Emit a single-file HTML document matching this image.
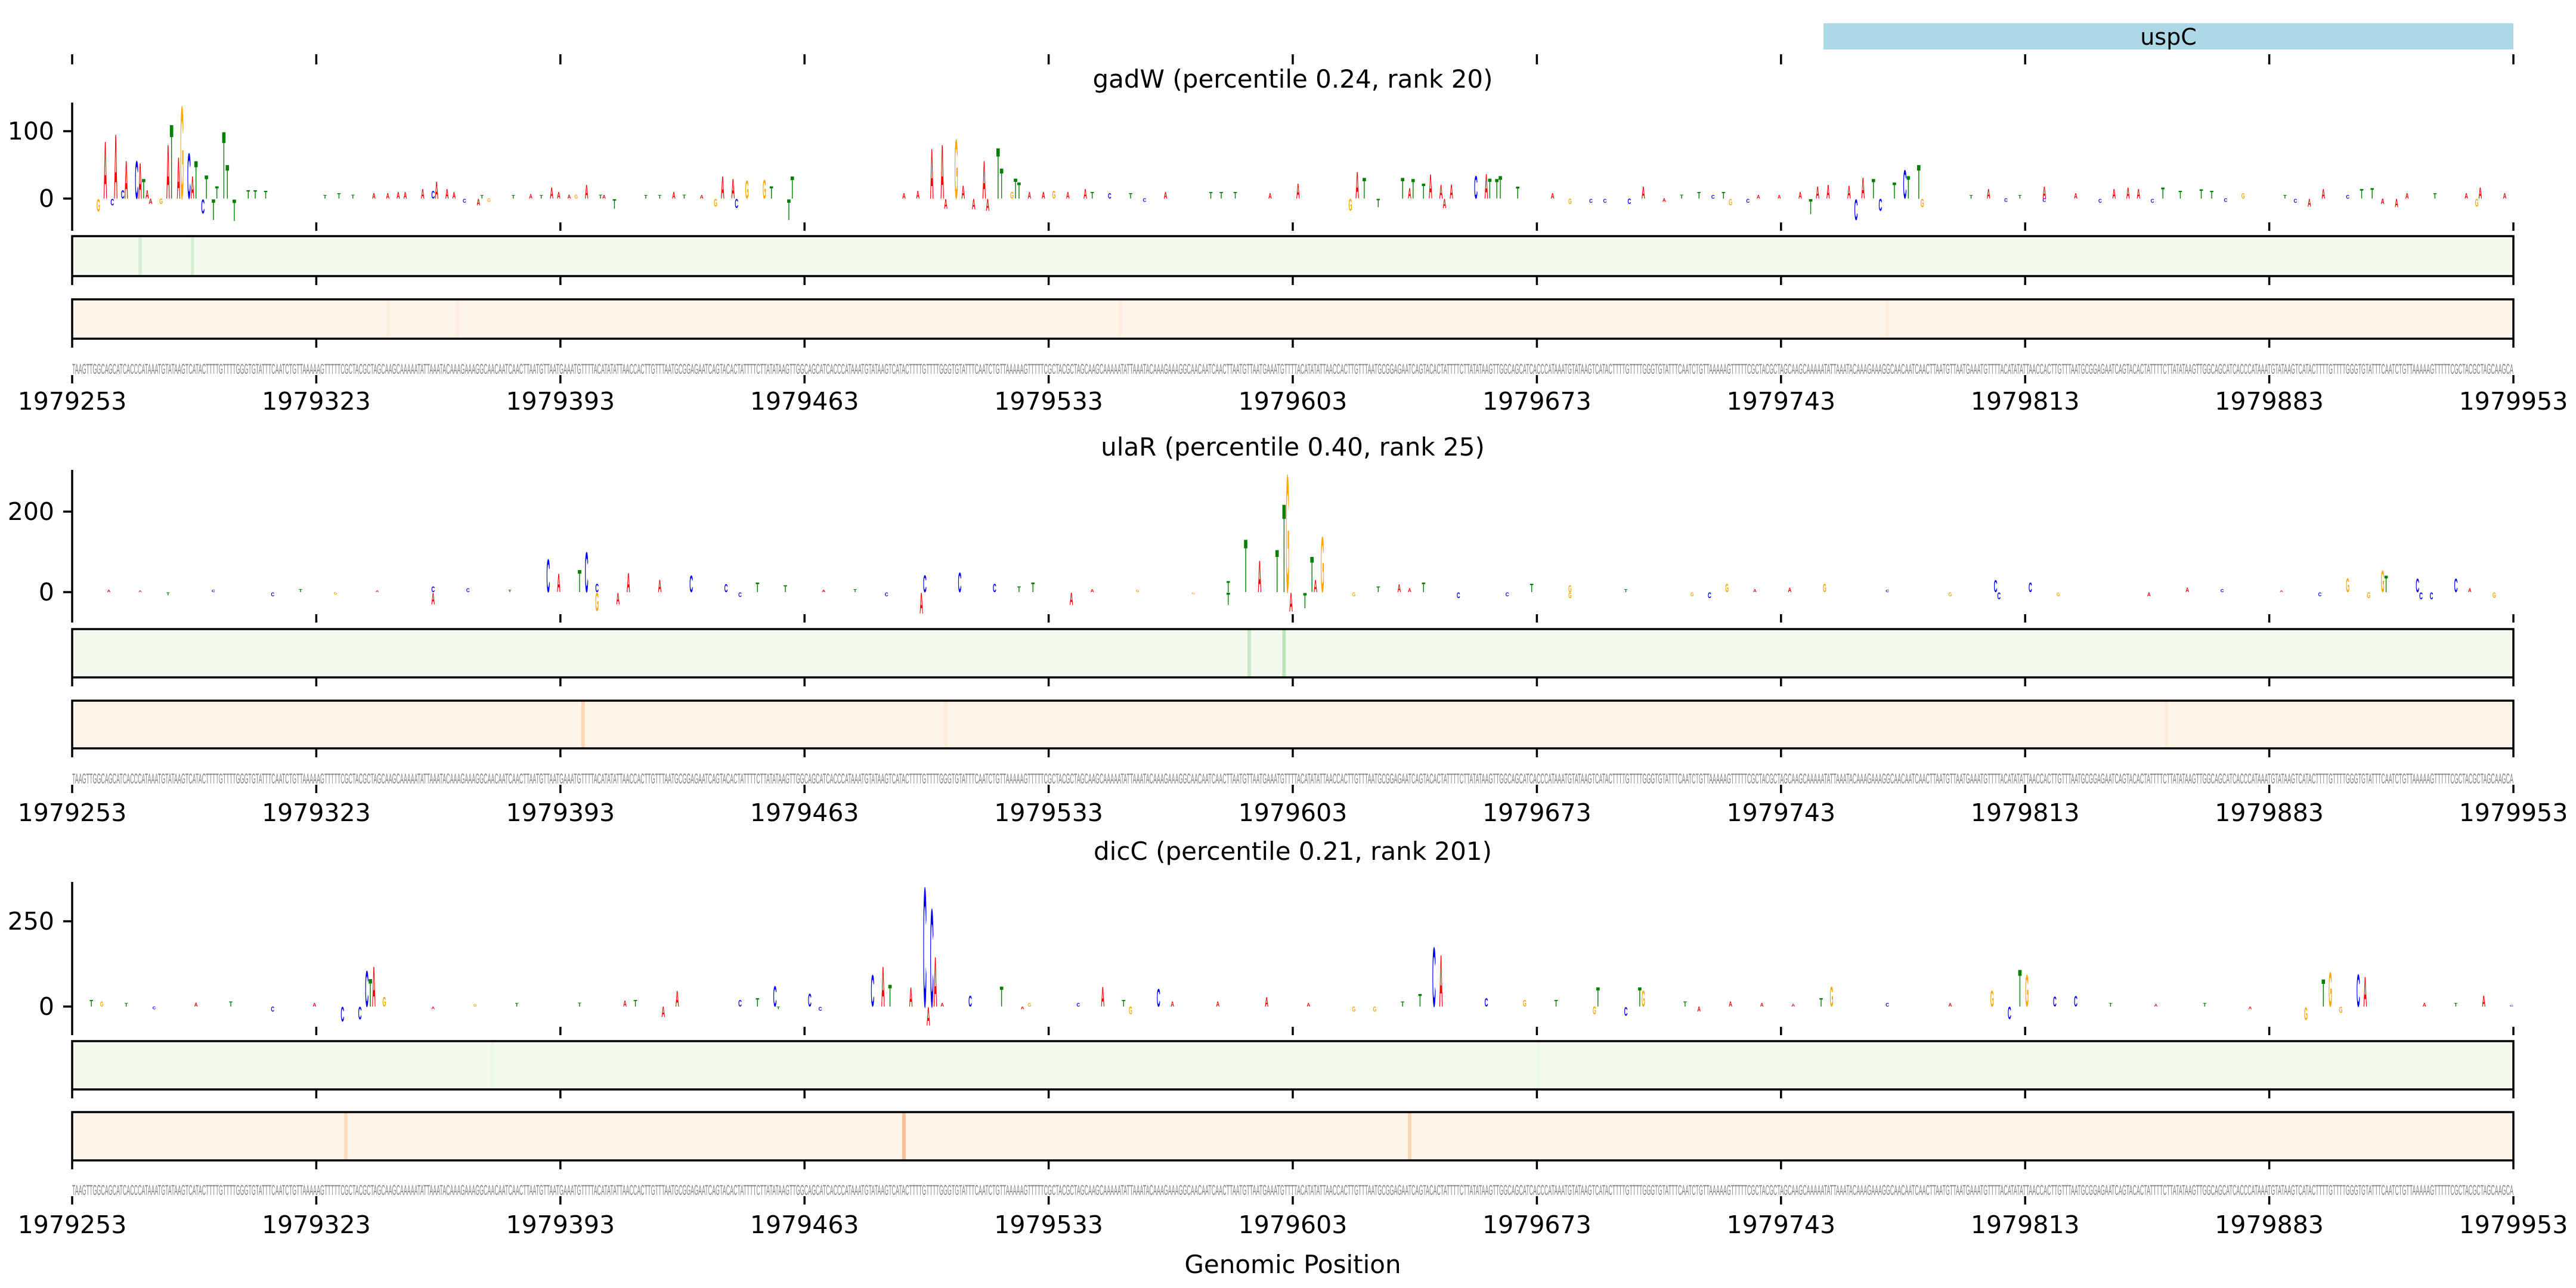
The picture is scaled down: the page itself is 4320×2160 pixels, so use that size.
<!DOCTYPE html>
<html><head><meta charset="utf-8"><style>
html,body{margin:0;padding:0;background:#fff;}
svg{display:block;}
</style></head><body>
<svg id="chart" xmlns="http://www.w3.org/2000/svg" width="4320" height="2160" viewBox="0 0 4320 2160">
<rect x="0" y="0" width="4320" height="2160" fill="#fff"/>
</svg>
<script>
// ---------- data ----------
const tickLabels = ["1979253","1979323","1979393","1979463","1979533","1979603","1979673","1979743","1979813","1979883","1979953"];
const panelTitles = ["gadW (percentile 0.24, rank 20)","ulaR (percentile 0.40, rank 25)","dicC (percentile 0.21, rank 201)"];
const yTickVals1 = [0,100];
const yTickVals2 = [0,200];
const yTickVals3 = [0,250];

const p1Pos = [7,9,11,12,14,15,18,19,20,21,22,25,27,28,30,31,33,34,35,37,38,40,41,43,44,46,52,104,107,137,147,155,184,186,189,190,193,198,200,205,206,246,249,250,253,255,258,261,262,265,266,269,270,271,351,366,368,370,374,381,383,384,387,389,392,393,395,402,405,406,408,409,414,450,498,500,503,509,511,513,516,518,522,525,526,529,530,565,589,599,610,641,659,666,689,690];
const p1Val = [-19,88,-10,99,13,58,58,55,30,13,-8,-8,83,114,63,142,70,34,58,-22,36,-32,19,103,52,-33,13,26,15,17,21,-15,-12,34,30,-14,28,29,19,-32,34,77,83,-15,91,20,-16,58,-18,78,46,10,31,25,23,-18,41,32,-13,32,16,30,23,37,21,-14,22,35,38,31,30,35,18,18,-23,18,21,20,-32,32,30,-18,25,44,35,52,-13,18,17,17,14,-12,16,-13,-12,17];
const p1Let = ["G","A","C","A","C","A","C","A","T","A","A","G","A","T","A","G","C","A","T","C","T","T","T","T","T","T","T","A","A","A","A","T","G","A","A","C","G","G","T","T","T","A","A","A","G","A","A","A","A","T","T","G","T","T","A","G","A","T","T","T","A","T","T","A","A","A","A","C","A","T","T","T","T","A","T","A","A","A","C","A","T","C","T","C","T","T","G","A","A","T","T","A","T","A","G","A"];
const p1SmallPos = [50,55,72,76,80,86,90,93,95,100,103,109,112,116,117,119,126,131,134,139,142,144,151,152,164,168,172,175,180,238,242,274,278,281,285,290,292,297,303,307,313,326,329,333,343,424,429,435,439,446,456,461,466,470,473,475,480,483,489,495,544,549,554,558,565,574,581,585,592,596,604,613,617,622,634,637,645,652,656,662,669,677,686,697];
const p1SmallVal = [13,12,5,8,6,8,8,10,10,15,12,10,-6,-10,5,-5,5,7,5,10,6,6,6,5,5,5,10,6,5,8,12,10,10,12,10,15,10,8,8,-5,10,10,10,10,8,8,-8,-6,-6,-8,-5,6,10,5,10,-10,-6,5,5,10,5,15,-5,5,-5,8,-6,15,15,-6,12,12,-5,8,5,-6,15,5,15,-8,8,8,8,8];
const p1SmallLet = ["T","T","T","T","T","A","A","A","A","A","C","A","C","A","T","G","T","A","T","A","A","G","T","A","T","T","A","T","A","A","A","A","A","G","A","A","T","C","T","C","A","T","T","T","A","A","G","C","C","C","A","T","T","C","T","G","C","A","A","A","T","A","C","T","C","A","C","A","A","C","T","T","C","G","T","C","A","C","T","A","A","T","A","A"];

const p2Pos = [103,103,136,139,145,147,150,150,156,159,168,177,187,196,243,244,254,264,275,286,331,331,336,340,345,347,348,349,353,355,356,358,374,380,387,418,429,474,502,551,552,561,652,662,663,672,673,683,694];
const p2Val = [-30,15,85,47,57,103,22,-47,-30,49,32,42,21,25,-53,43,50,22,25,-32,29,-32,136,81,109,227,302,-48,-40,91,32,143,15,20,25,22,18,22,22,31,-18,25,36,55,42,35,-18,35,-14];
const p2Let = ["A","C","C","A","T","C","C","G","A","A","A","C","C","T","A","C","C","C","T","A","T","T","T","A","T","T","G","A","T","T","A","G","T","A","T","T","G","G","G","C","C","C","G","G","T","C","C","C","G"];
const p2SmallPos = [10,19,27,40,57,65,75,87,113,125,191,204,215,224,233,271,292,305,321,367,383,397,411,429,445,464,469,482,492,520,538,569,595,606,616,633,644,658,676,687];
const p2SmallVal = [6,5,-8,6,-10,8,-6,5,10,6,-12,18,6,8,-10,15,8,6,-5,-10,10,-15,-10,-15,8,-10,-15,8,12,6,-10,-10,-10,12,8,5,-10,-15,-18,10];
const p2SmallLet = ["A","A","T","C","C","T","G","A","C","T","C","T","A","T","C","T","A","G","G","G","A","C","C","G","T","G","C","A","A","C","G","G","A","A","C","A","C","G","C","A"];

const p3Pos = [5,77,82,84,85,86,89,169,173,201,211,229,232,234,240,244,245,246,247,257,266,295,303,311,342,386,390,392,405,436,437,445,449,450,501,504,550,555,558,560,568,574,640,645,647,650,655,657,691];
const p3Val = [20,-44,-38,109,84,121,29,-31,48,62,40,96,121,67,58,362,-56,297,151,33,61,59,-23,54,28,39,180,157,25,-23,58,-27,58,49,25,61,49,-37,112,96,30,31,-39,83,105,-18,98,90,33];
const p3Let = ["T","C","C","C","T","A","G","A","A","C","C","C","A","T","A","C","A","C","A","C","T","A","G","C","A","T","C","A","C","G","T","C","T","G","T","G","G","C","T","G","C","C","G","T","G","G","C","A","A"];
const p3SmallPos = [8,15,23,35,45,57,69,103,115,127,145,158,161,191,196,202,214,249,272,274,288,301,315,328,354,367,373,381,416,425,462,466,475,484,493,520,538,584,597,611,624,674,683,699];
const p3SmallVal = [15,10,-8,12,15,-15,10,-8,8,10,12,18,20,20,25,-8,-12,10,-8,10,10,20,15,15,10,-15,-15,15,20,20,15,-15,15,10,8,10,10,10,8,10,-8,10,10,5];
const p3SmallLet = ["G","T","C","A","T","C","A","A","G","T","T","A","T","C","T","T","C","A","A","G","C","T","A","A","A","G","G","T","G","T","T","A","A","A","A","C","A","T","A","T","A","A","T","C"];

const p1GreenPos = [19,34];   const p1GreenVal = [0.22,0.22];
const p1OrangePos = [90,110,300,520]; const p1OrangeVal = [0.06,0.06,0.05,0.06];
const p2GreenPos = [337,347]; const p2GreenVal = [0.35,0.42];
const p2OrangePos = [146,250,600]; const p2OrangeVal = [0.3,0.08,0.08];
const p3GreenPos = [120,420]; const p3GreenVal = [0.06,0.06];
const p3OrangePos = [78,238,383]; const p3OrangeVal = [0.25,0.5,0.3];

const seqStart = "TAAGTTGGCAGCATCACCCATAAATGTATAAGTCATACTTTTGTTTTGGGTGTATTTCAATCTGTTAAAAAGTTTTTCGCTACGCTAGCAAGCAAAAATATTAAATACAAAGAAAGGCAACAATCAACTTAATGTTAATGAAATGTTTTACATATATTAACCACTTGTTTAATGCGGAGAATCAGTACACTATTTTCTTATA";

// ---------- layout ----------
const NS = "http://www.w3.org/2000/svg";
const svg = document.getElementById("chart");
const X0 = 121, X1 = 4215, NBP = 700;
function xScale(bp){ return X0 + (X1 - X0) * bp / NBP; }
const BPW = (X1 - X0) / NBP;
const FONT = '"DejaVu Sans","Liberation Sans",sans-serif';
const colors = {A:"#ff0000", C:"#0000ff", G:"#ffa500", T:"#008000"};

function mk(tag, attrs, parent){
  const e = document.createElementNS(NS, tag);
  for (const k in attrs) e.setAttribute(k, attrs[k]);
  (parent || svg).appendChild(e);
  return e;
}
function mix(a, b, t){
  return "rgb(" + [0,1,2].map(i => Math.round(a[i] + (b[i]-a[i])*t)).join(",") + ")";
}

const panels = [
  {title: panelTitles[0], titleY:132, spineTop:172, spineBot:373, zeroY:333, pxPerUnit:1.13, yt:yTickVals1,
   pos:p1SmallPos.concat(p1Pos), val:p1SmallVal.concat(p1Val), let:p1SmallLet.concat(p1Let), gTop:396, gBot:463, oTop:502, oBot:568, seqY:618, labY:672,
   gp:p1GreenPos, gv:p1GreenVal, op:p1OrangePos, ov:p1OrangeVal, topTicks:true},
  {title: panelTitles[1], titleY:749, spineTop:788, spineBot:1030, zeroY:993, pxPerUnit:0.675, yt:yTickVals2,
   pos:p2SmallPos.concat(p2Pos), val:p2SmallVal.concat(p2Val), let:p2SmallLet.concat(p2Let), gTop:1055, gBot:1136, oTop:1175, oBot:1255, seqY:1305, labY:1362,
   gp:p2GreenPos, gv:p2GreenVal, op:p2OrangePos, ov:p2OrangeVal, topTicks:false},
  {title: panelTitles[2], titleY:1427, spineTop:1479, spineBot:1722, zeroY:1688, pxPerUnit:0.572, yt:yTickVals3,
   pos:p3SmallPos.concat(p3Pos), val:p3SmallVal.concat(p3Val), let:p3SmallLet.concat(p3Let), gTop:1746, gBot:1827, oTop:1865, oBot:1946, seqY:1995, labY:2053,
   gp:p3GreenPos, gv:p3GreenVal, op:p3OrangePos, ov:p3OrangeVal, topTicks:false}
];

// uspC annotation
const gene = mk("rect", {x:3058, y:39, width:X1-3058, height:44, fill:"#add8e6"});


const geneT = mk("text", {x:(3058+X1)/2, y:75, "text-anchor":"middle", "font-family":FONT, "font-size":38, fill:"#000"});
geneT.textContent = "uspC";



function xTicks(y1, y2, name){
  for (let i = 0; i < tickLabels.length; i++){
    const x = xScale(i * 70);
    const t = mk("line", {x1:x, x2:x, y1:y1, y2:y2, stroke:"#000", "stroke-width":3.5});
    
    
  }
}

let seq = "";
while (seq.length < NBP) seq += seqStart;
seq = seq.slice(0, NBP);

panels.forEach((p, pi) => {
  const g = mk("g", {});
  
  

  if (p.topTicks) xTicks(91, 108, 'annotation-x-tick');

  const title = mk("text", {x:(X0+X1)/2, y:p.titleY+15, "text-anchor":"middle", "font-family":FONT, "font-size":42, fill:"#000"}, g);
  title.textContent = p.title;
  
  

  const sp = mk("line", {x1:X0, x2:X0, y1:p.spineTop, y2:p.spineBot, stroke:"#000", "stroke-width":3.5}, g);
  
  
  p.yt.forEach(v => {
    const y = p.zeroY - v * p.pxPerUnit;
    const tk = mk("line", {x1:X0-15, x2:X0, y1:y, y2:y, stroke:"#000", "stroke-width":3.5}, g);
    
    
    const tl = mk("text", {x:X0-30, y:y+14, "text-anchor":"end", "font-family":FONT, "font-size":41, fill:"#000"}, g);
    tl.textContent = String(v);
    
    
  });

  const lg = mk("g", {}, g);
  
  
  for (let i = 0; i < p.pos.length; i++){
    const v = p.val[i];
    const h = Math.abs(v) * p.pxPerUnit;
    if (h < 1) continue;
    const xc = xScale(p.pos[i] + 0.5);
    const base = v >= 0 ? p.zeroY : p.zeroY + h;
    const t = mk("text", {x:xc - BPW/2, y:base, "font-family":'"Liberation Sans",sans-serif', "font-weight":"bold",
      "font-size":(h/0.72).toFixed(2), textLength:BPW.toFixed(2), lengthAdjust:"spacingAndGlyphs", fill:colors[p.let[i]]}, lg);
    t.textContent = p.let[i];
    
    
  }
  xTicks(p.spineBot, p.spineBot+14, 'logo-x-tick');

  function track(top, bot, base, dark, sp, sv, name){
    const r = mk("rect", {x:X0, y:top, width:X1-X0, height:bot-top, fill:mix(base,base,0)}, g);
    
    
    for (let i = 0; i < sp.length; i++){
      const s = mk("rect", {x:xScale(sp[i]), y:top, width:BPW, height:bot-top, fill:mix(base, dark, sv[i])}, g);
      
      
    }
    const b = mk("rect", {x:X0, y:top, width:X1-X0, height:bot-top, fill:"none", stroke:"#000", "stroke-width":3.5}, g);
    
    
    xTicks(bot+1, bot+15, name + '-x-tick');
  }
  track(p.gTop, p.gBot, [243,250,240], [116,196,118], p.gp, p.gv, 'green-heatmap-track');
  track(p.oTop, p.oBot, [254,244,233], [253,141,60], p.op, p.ov, 'orange-heatmap-track');

  const st = mk("text", {x:X0, y:p.seqY+9, "font-family":'"Liberation Sans",sans-serif', "font-size":24,
    textLength:X1-X0, lengthAdjust:"spacingAndGlyphs", fill:"#808080"}, g);
  st.textContent = seq;
  
  
  xTicks(p.seqY+11, p.seqY+25, 'sequence-x-tick');

  for (let i = 0; i < tickLabels.length; i++){
    const tl = mk("text", {x:xScale(i*70), y:p.labY+15, "text-anchor":"middle", "font-family":FONT, "font-size":41, fill:"#000"}, g);
    tl.textContent = tickLabels[i];
    
    
  }
});

const xt = mk("text", {x:(X0+X1)/2, y:2135, "text-anchor":"middle", "font-family":FONT, "font-size":42, fill:"#000"});
xt.textContent = "Genomic Position";


</script>
</body></html>
